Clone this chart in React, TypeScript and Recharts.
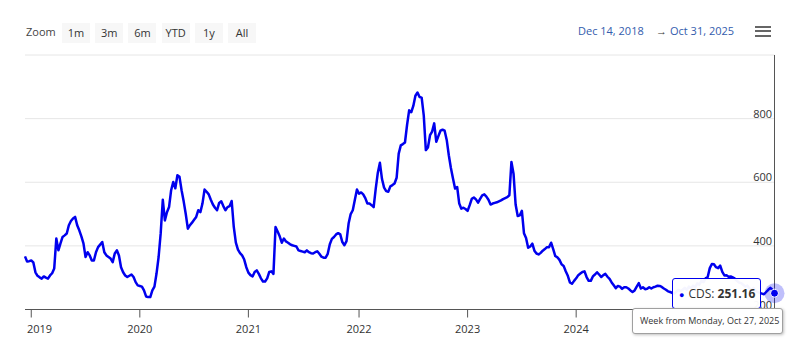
import React from 'react';
import { LineChart, Line, XAxis, YAxis, CartesianGrid, Tooltip } from 'recharts';

// weekly CDS, first value is the week ending Fri Dec 14, 2018
const firstWeek = '2018-12-14';

const cds2019 = [
  367, 351, 352, 354, 348, 317, 306, 301, 297, 304,
  300, 297, 307, 314, 329, 423, 386, 408, 428, 433,
  439, 465, 478, 486, 491, 465, 449, 430, 408, 365,
  380, 370, 354, 354, 380, 396, 404, 412, 380, 370,
  365, 360, 349, 376, 386, 370, 333, 317, 307, 302,
  306, 310, 302, 286, 276,
];
const cds2020 = [
  274, 272, 260, 241, 239, 239, 260, 272, 313, 365,
  440, 545, 480, 506, 522, 575, 601, 581, 622, 617,
  575, 540, 500, 454, 465, 473, 482, 491, 512, 506,
  533, 577, 570, 562, 545, 530, 520, 512, 535, 540,
  525, 512, 522, 525, 541, 460, 410, 388, 377, 370,
  357, 333,
];
const cds2021 = [
  316, 308, 304, 318, 323, 312, 298, 288, 288, 298,
  318, 320, 312, 459, 445, 430, 410, 423, 414, 410,
  405, 402, 400, 398, 386, 384, 382, 380, 386, 380,
  377, 376, 380, 383, 375, 366, 363, 363, 375, 405,
  422, 428, 436, 440, 436, 412, 402, 415, 470, 500,
  512, 545, 577,
];
const cds2022 = [
  564, 568, 562, 550, 533, 533, 528, 522, 580, 630,
  661, 610, 583, 572, 570, 587, 591, 596, 614, 690,
  716, 720, 725, 780, 826, 820, 840, 872, 882, 868,
  866, 810, 701, 709, 748, 759, 785, 727, 745, 762,
  765, 762, 733, 685, 645, 612, 580, 585, 533, 517,
  520, 516,
];
const cds2023 = [
  510, 528, 548, 552, 546, 536, 548, 559, 562, 555,
  545, 530, 533, 535, 537, 540, 543, 547, 550, 553,
  559, 664, 627, 530, 494, 496, 510, 440, 425, 394,
  398, 407, 385, 376, 373, 378, 385, 390, 396, 396,
  410, 390, 368, 364, 356, 342, 337, 320, 306, 285,
  281, 290,
];
const cds2024 = [
  298, 308, 313, 318, 320, 302, 290, 290, 304, 310,
  317, 310, 302, 308, 312, 303, 296, 285, 276, 267,
  274, 272, 265, 270, 270, 266, 260, 255, 260, 272,
  283, 266, 270, 264, 265, 270, 266, 270, 272, 275,
  274, 271, 266, 262, 257, 255, 252, 250, 256, 262,
  258, 262,
];
const cds2025 = [
  268, 262, 272, 266, 275, 270, 282, 278, 290, 286,
  298, 302, 330, 343, 342, 333, 330, 338, 318, 307,
  308, 303, 304, 301, 297, 290, 285, 283, 278,
  272, 275, 266, 262, 268, 258, 255, 252, 250, 248,
  255, 262, 268, 262, 251.16,
];

const yearTickDates = ['2019-01-04', '2020-01-03', '2021-01-01', '2022-01-07', '2023-01-06', '2024-01-05'];
const yearTickLabels = ['2019', '2020', '2021', '2022', '2023', '2024'];
const valueTicks = [200, 400, 600, 800, 1000];
const zoomButtons = ['1m', '3m', '6m', 'YTD', '1y', 'All'];
const rangeFrom = 'Dec 14, 2018';
const rangeTo = 'Oct 31, 2025';
const seriesName = 'CDS';

const FONT = '"Open Sans", "Noto Sans", sans-serif';
const BLUE = '#0000ee';
const DAY = 24 * 3600 * 1000;
const MONTHS = ['Jan', 'Feb', 'Mar', 'Apr', 'May', 'Jun', 'Jul', 'Aug', 'Sep', 'Oct', 'Nov', 'Dec'];

const start = Date.parse(firstWeek);
const values = [...cds2019, ...cds2020, ...cds2021, ...cds2022, ...cds2023, ...cds2024, ...cds2025];
const data = values.map((v, i) => ({ t: start + i * 7 * DAY, cds: v }));
const yearTicks = yearTickDates.map((d) => Date.parse(d));

const fmtDate = (t: number) => {
  const d = new Date(t);
  return `${MONTHS[d.getUTCMonth()]} ${d.getUTCDate()}, ${d.getUTCFullYear()}`;
};

const YearTick = (props: any) => {
  const { x, y, payload } = props;
  const i = yearTicks.indexOf(payload.value);
  return (
    <text x={Math.max(x, 39.5)} y={y} dy={13.5} textAnchor="middle" fontSize={11} fill="#333" fontFamily={FONT}>
      {yearTickLabels[i]}
    </text>
  );
};

const ValueTick = (props: any) => {
  const { y, payload } = props;
  if (payload.value === 1000) return null;
  return (
    <text x={772} y={y - 1} textAnchor="end" fontSize={11} fill="#333" fontFamily={FONT}>
      {payload.value}
    </text>
  );
};

const renderActiveDot = (props: any) => {
  const { cx, cy } = props;
  return (
    <g>
      <circle cx={cx} cy={cy} r={10} fill={BLUE} fillOpacity={0.25} />
      <circle cx={cx} cy={cy} r={4} fill={BLUE} stroke="#fff" strokeWidth={1} />
    </g>
  );
};

const CdsTooltip = (props: any) => {
  const { payload } = props;
  if (!payload || !payload.length) return null;
  const p = payload[0].payload;
  return (
    <div style={{ position: 'relative', width: 151, height: 56, fontFamily: FONT }}>
      <div style={{
        position: 'absolute', left: 40, top: 0, width: 89, height: 31, boxSizing: 'border-box',
        border: `1px solid ${BLUE}`, borderRadius: 3, background: 'rgba(255,255,255,0.96)',
        fontSize: 12, color: '#333', lineHeight: '29px', paddingLeft: 6, whiteSpace: 'nowrap',
      }}>
        <span style={{ color: BLUE, fontSize: 9, marginRight: 4 }}>●</span>
        {seriesName}: <b>{p.cds.toFixed(2)}</b>
      </div>
      <div style={{
        position: 'absolute', left: 0, top: 30, width: 151, height: 26, boxSizing: 'border-box',
        border: '1px solid #a0a0a0', borderRadius: 3, background: '#fff',
        boxShadow: '1px 1px 3px rgba(0,0,0,0.25)', fontSize: 9, color: '#333',
        lineHeight: '24px', paddingLeft: 7, whiteSpace: 'nowrap',
      }}>
        Week from Monday, {fmtDate(p.t - 4 * DAY)}
      </div>
    </div>
  );
};

const App = () => {
  const last = data.length - 1;
  return (
    <div style={{ position: 'absolute', left: 0, top: 0, width: 806, height: 356, background: '#fff', fontFamily: FONT }}>
      <LineChart width={806} height={356} data={data} margin={{ top: 55, right: 0, bottom: 0, left: 25 }}>
        <CartesianGrid vertical={false} stroke="#e6e6e6" />
        <XAxis
          dataKey="t"
          type="number"
          domain={[data[0].t, data[last].t]}
          ticks={yearTicks}
          interval={0}
          height={46.5}
          tickSize={8}
          axisLine={{ stroke: '#555' }}
          tickLine={{ stroke: '#555' }}
          tick={<YearTick />}
        />
        <YAxis
          orientation="right"
          width={31.5}
          domain={[200, 1000]}
          ticks={valueTicks}
          interval={0}
          axisLine={{ stroke: '#555' }}
          tickLine={false}
          tick={<ValueTick />}
        />
        <Tooltip
          defaultIndex={last}
          active
          cursor={false}
          isAnimationActive={false}
          position={{ x: 632, y: 278 }}
          allowEscapeViewBox={{ x: true, y: true }}
          wrapperStyle={{ outline: 'none' }}
          content={<CdsTooltip />}
        />
        <Line
          type="linear"
          dataKey="cds"
          stroke={BLUE}
          strokeWidth={2.5}
          strokeLinejoin="round"
          dot={false}
          activeDot={renderActiveDot}
          isAnimationActive={false}
        />
      </LineChart>

      <div style={{ position: 'absolute', left: 26, top: 24, height: 16, lineHeight: '16px', fontSize: 11, color: '#444' }}>Zoom</div>
      {zoomButtons.map((b, i) => (
        <div key={b} style={{
          position: 'absolute', left: 62 + i * 33.2, top: 23, width: 28, height: 20, lineHeight: '20px',
          background: '#f7f7f7', textAlign: 'center', fontSize: 11, color: '#333',
        }}>{b}</div>
      ))}
      <div style={{ position: 'absolute', left: 578, top: 23, height: 16, lineHeight: '16px', fontSize: 11, color: '#335cad', whiteSpace: 'nowrap' }}>{rangeFrom}</div>
      <div style={{ position: 'absolute', left: 656, top: 23, height: 16, lineHeight: '16px', fontSize: 11, color: '#333' }}>→</div>
      <div style={{ position: 'absolute', left: 670, top: 23, height: 16, lineHeight: '16px', fontSize: 11, color: '#335cad', whiteSpace: 'nowrap' }}>{rangeTo}</div>
      {[0, 1, 2].map((k) => (
        <div key={k} style={{ position: 'absolute', left: 755, top: 25.5 + k * 4.6, width: 16, height: 2.4, background: '#666' }} />
      ))}
    </div>
  );
};

export default App;
